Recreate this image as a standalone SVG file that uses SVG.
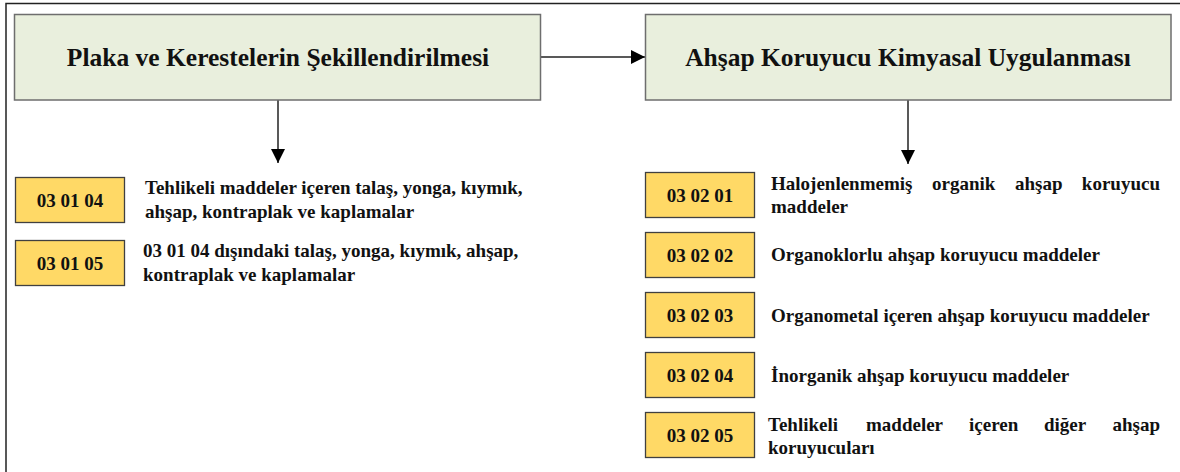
<svg xmlns="http://www.w3.org/2000/svg" width="1180" height="472" viewBox="0 0 1180 472">
<defs>
<marker id="arr" markerWidth="14" markerHeight="14" refX="14" refY="7" orient="auto" markerUnits="userSpaceOnUse">
<path d="M0,0 L14,7 L0,14 Z" fill="#000"/>
</marker>
<style>
.hdr{fill:#e9efdd;stroke:#6e6e6e;stroke-width:1.5}
.code{fill:#ffd966;stroke:#404040;stroke-width:1.3}
.t{font-family:'Liberation Serif','Times New Roman',serif;font-weight:bold;fill:#111}
.ht{font-size:25.5px}
.ct{font-size:19px}
.dt{font-size:19px}
.conn{stroke:#222;stroke-width:1.5;fill:none}
</style>
</defs>
<rect width="1180" height="472" fill="#fff"/>
<path d="M6,472 V3.5 H1180" fill="none" stroke="#222" stroke-width="1.5"/>
<g id="connectors">
<path class="conn" d="M541,57 H645" marker-end="url(#arr)"/>
<path class="conn" d="M278,100 V163" marker-end="url(#arr)"/>
<path class="conn" d="M908,100 V164" marker-end="url(#arr)"/>
</g>
<g id="n-plaka">
<rect class="hdr" x="14.5" y="14.5" width="526" height="85.5"/>
<text class="t ht" x="278" y="65.5" text-anchor="middle">Plaka ve Kerestelerin Şekillendirilmesi</text>
</g>
<g id="n-ahsap">
<rect class="hdr" x="645.5" y="14.5" width="525.5" height="85.5"/>
<text class="t ht" x="908" y="65.5" text-anchor="middle">Ahşap Koruyucu Kimyasal Uygulanması</text>
</g>
<g id="n-030104">
<rect class="code" x="15.5" y="177.5" width="109" height="45"/>
<text class="t ct" x="70" y="206.5" text-anchor="middle">03 01 04</text>
<text class="t dt" x="145" y="194">Tehlikeli maddeler içeren talaş, yonga, kıymık,</text>
<text class="t dt" x="145" y="218">ahşap, kontraplak ve kaplamalar</text>
</g>
<g id="n-030105">
<rect class="code" x="15.5" y="240.5" width="109" height="45"/>
<text class="t ct" x="70" y="269.5" text-anchor="middle">03 01 05</text>
<text class="t dt" x="143" y="257">03 01 04 dışındaki talaş, yonga, kıymık, ahşap,</text>
<text class="t dt" x="143" y="281">kontraplak ve kaplamalar</text>
</g>
<g id="n-030201">
<rect class="code" x="645.5" y="172.5" width="109" height="45"/>
<text class="t ct" x="700" y="201.5" text-anchor="middle">03 02 01</text>
<text class="t dt" y="190"><tspan x="771">Halojenlenmemiş</tspan><tspan x="932">organik</tspan><tspan x="1015">ahşap</tspan><tspan x="1160" text-anchor="end">koruyucu</tspan></text>
<text class="t dt" x="771" y="213">maddeler</text>
</g>
<g id="n-030202">
<rect class="code" x="645.5" y="232.5" width="109" height="45"/>
<text class="t ct" x="700" y="261.5" text-anchor="middle">03 02 02</text>
<text class="t dt" x="771" y="260.5">Organoklorlu ahşap koruyucu maddeler</text>
</g>
<g id="n-030203">
<rect class="code" x="645.5" y="292.5" width="109" height="45"/>
<text class="t ct" x="700" y="321.5" text-anchor="middle">03 02 03</text>
<text class="t dt" x="771" y="321.5">Organometal içeren ahşap koruyucu maddeler</text>
</g>
<g id="n-030204">
<rect class="code" x="645.5" y="352.5" width="109" height="45"/>
<text class="t ct" x="700" y="381.5" text-anchor="middle">03 02 04</text>
<text class="t dt" x="771" y="382">İnorganik ahşap koruyucu maddeler</text>
</g>
<g id="n-030205">
<rect class="code" x="645.5" y="412.5" width="109" height="45"/>
<text class="t ct" x="700" y="441.5" text-anchor="middle">03 02 05</text>
<text class="t dt" y="431"><tspan x="768">Tehlikeli</tspan><tspan x="866">maddeler</tspan><tspan x="969">içeren</tspan><tspan x="1044">diğer</tspan><tspan x="1160" text-anchor="end">ahşap</tspan></text>
<text class="t dt" x="768" y="454">koruyucuları</text>
</g>
</svg>
